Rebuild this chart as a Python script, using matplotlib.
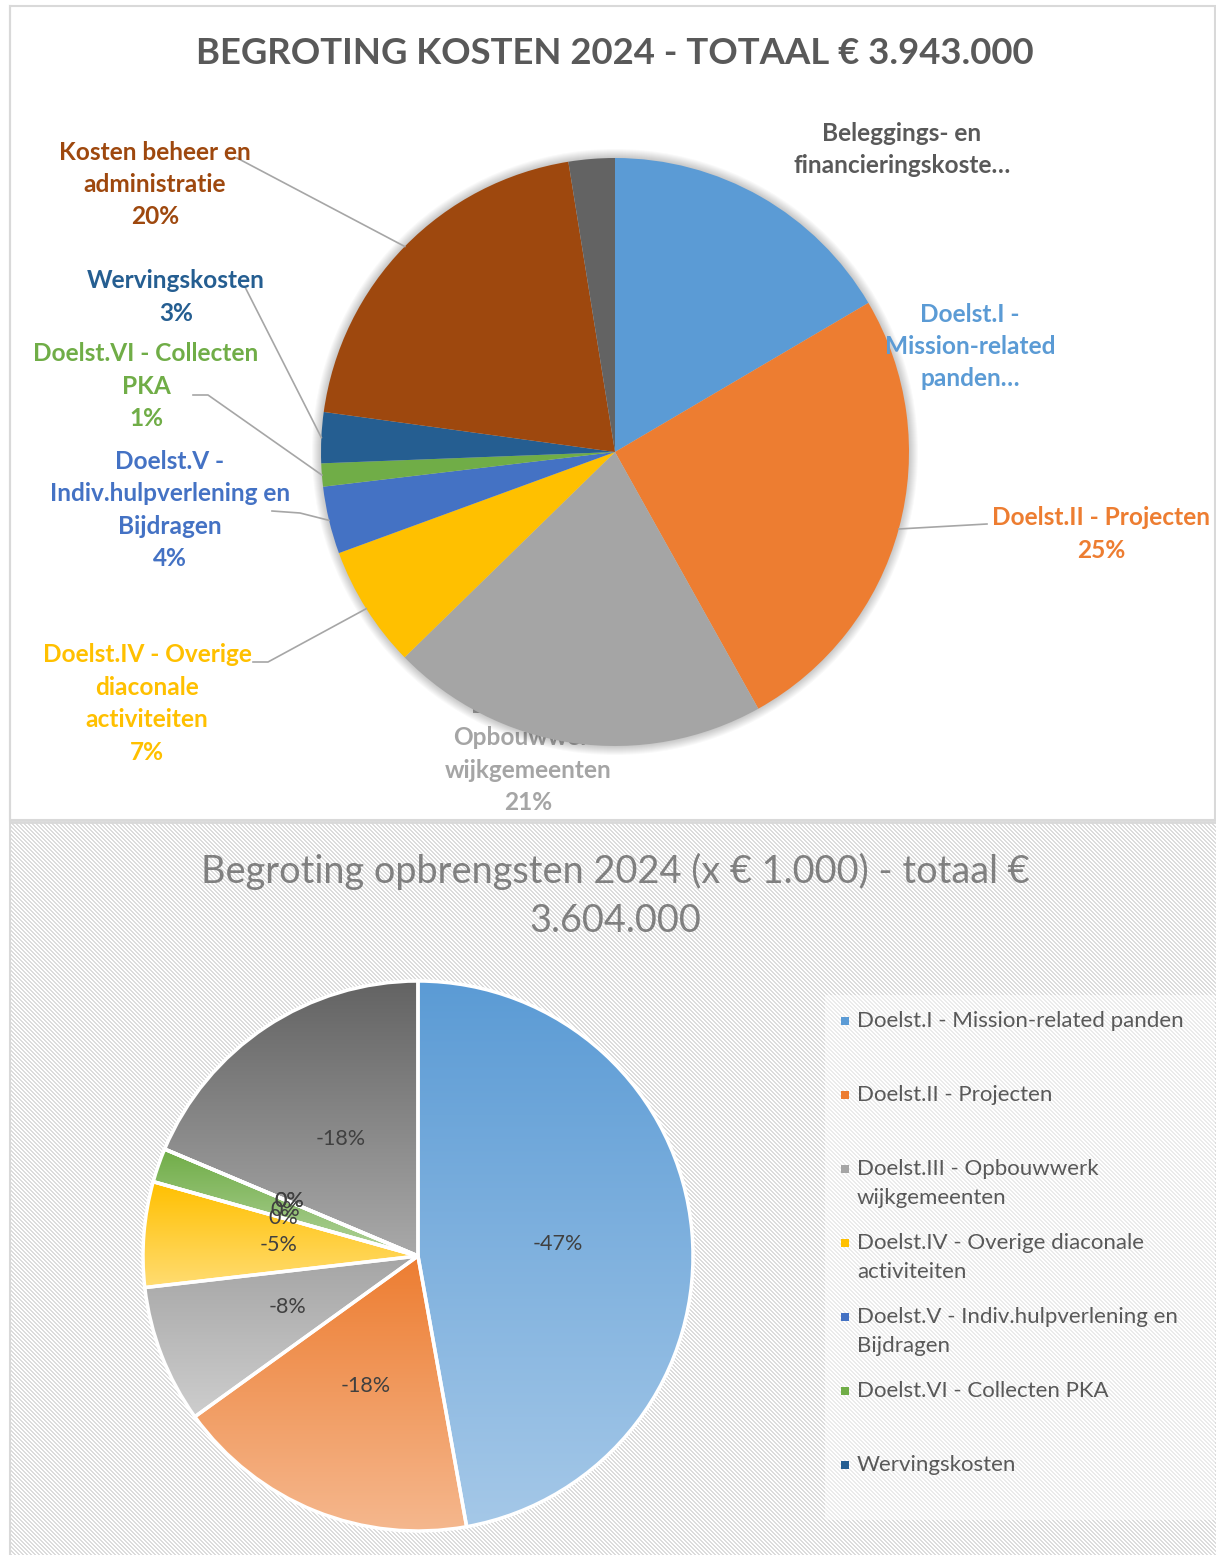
import numpy as np
import matplotlib
matplotlib.use("Agg")
import matplotlib.pyplot as plt
from matplotlib.patches import Rectangle, Circle

# ---------------- data ----------------
categories = [
    "Doelst.I - Mission-related panden",
    "Doelst.II - Projecten",
    "Doelst.III - Opbouwwerk wijkgemeenten",
    "Doelst.IV - Overige diaconale activiteiten",
    "Doelst.V - Indiv.hulpverlening en Bijdragen",
    "Doelst.VI - Collecten PKA",
    "Wervingskosten",
    "Kosten beheer en administratie",
    "Beleggings- en financieringskosten",
]
# costs 2024 (x EUR 1.000), total 3.943
cost_values = [652, 1000, 820, 265, 146, 50, 110, 800, 100]
# wrapped label text as shown in the top chart
cost_label_names = [
    "Doelst.I -\nMission-related\npanden…",
    "Doelst.II - Projecten",
    "Doelst.III -\nOpbouwwerk\nwijkgemeenten",
    "Doelst.IV - Overige\ndiaconale\nactiviteiten",
    "Doelst.V -\nIndiv.hulpverlening en\nBijdragen",
    "Doelst.VI - Collecten\nPKA",
    "Wervingskosten",
    "Kosten beheer en\nadministratie",
    "Beleggings- en\nfinancieringskoste…",
]
cost_show_pct = [False, True, True, True, True, True, True, True, False]
cost_title = "BEGROTING KOSTEN 2024 - TOTAAL € 3.943.000"

# revenues 2024 (x EUR 1.000), shown as negative values
income_values = [-1700, -645, -292, -223, 0, -72, 0, 0, -672]
income_labels = ["-47%", "-18%", "-8%", "-5%", "0%", "0%", "0%", "0%", "-18%"]
income_title = "Begroting opbrengsten 2024 (x € 1.000) - totaal €\n3.604.000"
legend_entries = [
    "Doelst.I - Mission-related panden",
    "Doelst.II - Projecten",
    "Doelst.III - Opbouwwerk\nwijkgemeenten",
    "Doelst.IV - Overige diaconale\nactiviteiten",
    "Doelst.V - Indiv.hulpverlening en\nBijdragen",
    "Doelst.VI - Collecten PKA",
    "Wervingskosten",
]

colors = ["#5B9BD5", "#ED7D31", "#A5A5A5", "#FFC000", "#4472C4",
          "#70AD47", "#255E91", "#9E480E", "#636363"]

# ---------------- layout ----------------
plt.rcParams['font.family'] = ['Lato', 'DejaVu Sans']
W, H = 1216, 1555
fig = plt.figure(figsize=(W / 100, H / 100), dpi=100)
ax = fig.add_axes([0, 0, 1, 1])


def Y(y):
    return H - y


def hex2rgb(h):
    h = h.lstrip('#')
    return np.array([int(h[i:i + 2], 16) for i in (0, 2, 4)]) / 255.0


# top frame
ax.add_patch(Rectangle((10, Y(820)), W - 11, 814, facecolor='white',
                       edgecolor='#D9D9D9', lw=1.5, zorder=0))

# bottom hatched background
bh = H - 822
bw = W - 10
rr, cc = np.mgrid[0:bh, 0:bw]
mask = ((cc - rr) % 4) < 2
bg = np.ones((bh, bw, 3))
bg[mask] = hex2rgb('#DCDCDC')
ax.imshow(bg, extent=(10, W, 0, Y(822)), origin='upper', aspect='auto',
          interpolation='nearest', zorder=0)
ax.plot([10, W], [Y(822), Y(822)], color='#D9D9D9', lw=2, zorder=0.5)
ax.plot([10, 10], [0, Y(6)], color='#D9D9D9', lw=1.5, zorder=0.5)

# ---------------- top pie ----------------
c1 = (615, Y(452))
r1 = 294
for k in range(1, 10):
    ax.add_patch(Circle(c1, r1 + k, color='black', alpha=0.022, lw=0, zorder=1.5))
wedges1, _ = ax.pie(cost_values, colors=colors, startangle=90, counterclock=False,
                    center=c1, radius=r1, frame=True,
                    wedgeprops=dict(linewidth=0, zorder=2))

total_cost = sum(cost_values)
label_pos = [(970, 346.5), (1101, 534), (528, 754), (147, 703.5), (170, 510),
             (146, 386), (176, 297), (155, 184.5), (902, 149.5)]
leader_pts = {1: [(987, 524)], 3: [(253, 662), (268, 662)],
              4: [(272, 511), (300, 513)], 5: [(193, 395), (208, 395)],
              6: [(245, 287)], 7: [(237, 158)]}
label_colors = list(colors)
label_colors[8] = '#595959'
for i, w in enumerate(wedges1):
    txt = cost_label_names[i]
    if cost_show_pct[i]:
        txt += "\n%d%%" % round(100 * cost_values[i] / total_cost)
    x, y = label_pos[i]
    ax.text(x, Y(y), txt, ha='center', va='center', color=label_colors[i],
            fontsize=17.6, fontweight='bold', linespacing=1.5,
            zorder=1 if i == 2 else 3)
    if i in leader_pts:
        mid = np.deg2rad((w.theta1 + w.theta2) / 2)
        ex = c1[0] + r1 * np.cos(mid)
        ey = c1[1] + r1 * np.sin(mid)
        xs = [p[0] for p in leader_pts[i]] + [ex]
        ys = [Y(p[1]) for p in leader_pts[i]] + [ey]
        ax.plot(xs, ys, color='#A6A6A6', lw=1.2, zorder=2.5)

ax.text(615, Y(53), cost_title, ha='center', va='center', color='#595959',
        fontsize=26.3, fontweight='bold', zorder=3)

# ---------------- bottom pie ----------------
c2 = (418, Y(1256))
r2 = 275
wedges2, _ = ax.pie(np.abs(income_values), colors=colors, startangle=90,
                    counterclock=False, center=c2, radius=r2, frame=True,
                    wedgeprops=dict(edgecolor='white', linewidth=2.5, zorder=5))
for i, w in enumerate(wedges2):
    if income_values[i] != 0:
        th = np.deg2rad(np.linspace(w.theta1, w.theta2, 200))
        px = np.concatenate([[c2[0]], c2[0] + r2 * np.cos(th)])
        py = np.concatenate([[c2[1]], c2[1] + r2 * np.sin(th)])
        top = hex2rgb(colors[i])
        bot = top + (1 - top) * 0.45
        t = np.linspace(0, 1, 256)[:, None, None]
        img = top[None, None, :] * (1 - t) + bot[None, None, :] * t
        im = ax.imshow(img, extent=(px.min(), px.max(), py.min(), py.max()),
                       origin='upper', aspect='auto', interpolation='bilinear',
                       zorder=4)
        im.set_clip_path(w)
    w.set_facecolor('none')
    mid = np.deg2rad((w.theta1 + w.theta2) / 2)
    ax.text(c2[0] + 0.51 * r2 * np.cos(mid), c2[1] + 0.51 * r2 * np.sin(mid),
            income_labels[i], ha='center', va='center', color='#404040',
            fontsize=15.5, zorder=6)

ax.text(615, Y(895.5), income_title, ha='center', va='center', color='#808080',
        fontsize=27.3, linespacing=1.45, zorder=3)

# legend (first 7 entries visible)
ax.add_patch(Rectangle((825, Y(1520)), 390, 525, facecolor='white', alpha=0.45,
                       lw=0, zorder=1))
leg_y = [1021, 1095, 1169, 1243, 1317, 1391, 1465]
for i, entry in enumerate(legend_entries):
    y0 = leg_y[i]
    ax.add_patch(Rectangle((841, Y(y0) - 4), 8, 8, facecolor=colors[i],
                           lw=0, zorder=3))
    for j, line in enumerate(entry.split('\n')):
        ax.text(857, Y(y0 + j * 29.5), line, ha='left', va='center',
                color='#595959', fontsize=16, zorder=3)

ax.set_xlim(0, W)
ax.set_ylim(0, H)
ax.set_aspect('auto')
ax.axis('off')
fig.savefig('out.png', dpi=100)
